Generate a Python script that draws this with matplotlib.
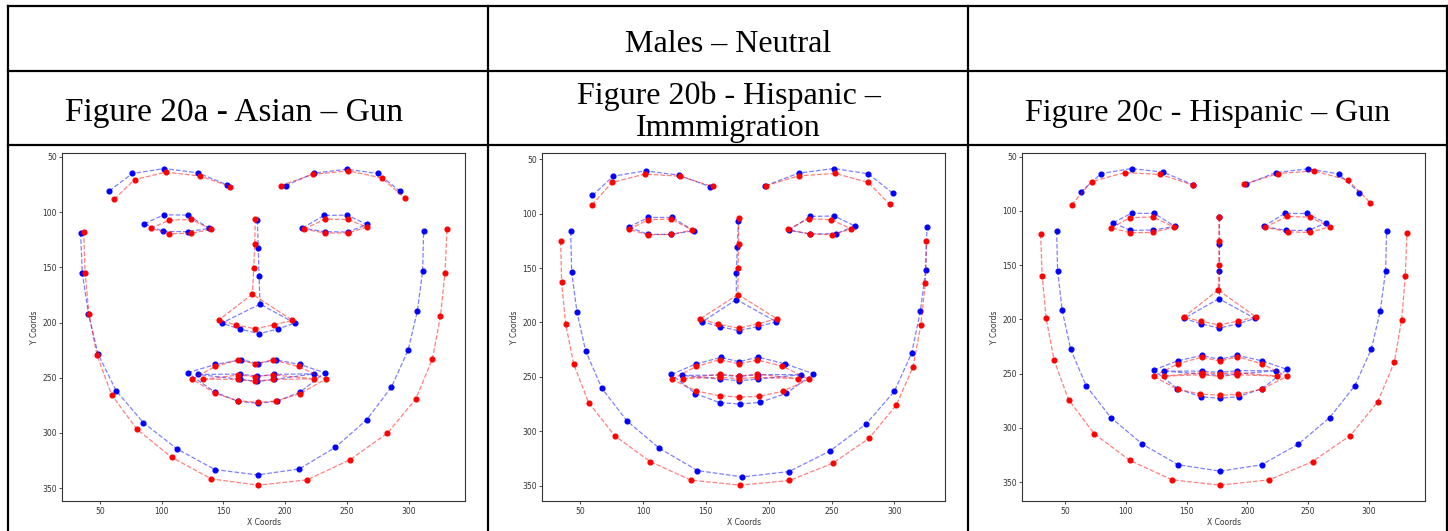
import matplotlib
matplotlib.use("Agg")
import matplotlib.pyplot as plt
from matplotlib.lines import Line2D

# ---------------------------------------------------------------------------
# 68-point facial landmarks (jaw 0-16, brows 17-26, nose 27-35,
# eyes 36-47, outer lips 48-59, inner lips 60-67) for each panel.
# ---------------------------------------------------------------------------

# Figure 20a - Asian - Gun
a_blue_x = [34.3, 35.7, 40.6, 48.4, 63.0, 85.1, 112.4, 143.1, 177.7, 211.4, 240.6, 266.0, 286.0, 299.5, 307.0, 311.3, 312.1,
            57.5, 76.2, 102.1, 129.1, 153.1,
            200.4, 223.3, 250.0, 274.9, 292.7,
            177.4, 178.2, 178.8, 179.6, 148.5, 163.4, 178.8, 193.9, 207.7,
            85.9, 101.8, 121.0, 138.6, 121.0, 101.3,
            213.9, 231.4, 250.3, 266.0, 251.1, 232.0,
            120.9, 143.3, 164.4, 178.2, 192.2, 212.2, 231.9, 212.2, 193.3, 178.2, 161.8, 142.8,
            129.6, 163.6, 177.4, 191.2, 223.6, 191.2, 177.4, 163.6]
a_blue_y = [118.6, 155.3, 192.0, 228.5, 261.6, 290.7, 314.5, 333.2, 338.0, 332.6, 313.0, 288.0, 258.5, 225.1, 189.6, 153.2, 116.8,
            80.7, 65.0, 60.5, 64.4, 75.3,
            75.9, 64.7, 61.1, 65.0, 80.7,
            107.2, 132.2, 157.4, 183.3, 200.5, 205.9, 210.1, 205.9, 200.5,
            110.5, 102.4, 102.7, 114.7, 117.7, 117.5,
            114.4, 103.0, 102.7, 111.1, 118.0, 117.7,
            245.5, 238.0, 233.8, 237.1, 233.8, 238.0, 245.5, 262.9, 271.4, 273.2, 271.4, 262.9,
            247.0, 246.7, 248.6, 247.0, 246.4, 251.5, 253.3, 251.5]
a_red_x = [36.8, 37.9, 41.1, 47.6, 59.4, 80.0, 108.0, 140.2, 178.2, 217.7, 252.2, 282.7, 305.7, 319.2, 325.7, 329.4, 331.0,
           61.6, 78.1, 103.5, 130.7, 155.6,
           196.3, 222.2, 251.1, 278.1, 297.0,
           175.8, 175.3, 174.5, 173.4, 146.1, 160.2, 175.3, 190.9, 205.8,
           91.0, 106.2, 123.7, 140.2, 123.4, 105.9,
           215.2, 232.2, 250.6, 266.0, 251.1, 232.2,
           124.7, 143.3, 161.7, 175.6, 190.1, 210.8, 232.7, 211.9, 192.5, 178.2, 161.5, 143.3,
           133.6, 162.0, 175.6, 190.2, 223.6, 190.2, 175.6, 162.0]
a_red_y = [117.7, 154.7, 192.6, 229.7, 265.5, 296.8, 322.1, 341.6, 347.3, 342.5, 324.4, 300.3, 269.3, 232.9, 194.4, 155.0, 115.6,
           88.2, 70.5, 63.8, 67.2, 76.8,
           75.9, 65.9, 62.6, 69.0, 87.3,
           106.3, 128.5, 150.8, 174.3, 197.8, 202.2, 205.6, 202.0, 198.0,
           114.7, 107.2, 106.6, 115.6, 119.2, 119.5,
           115.3, 106.3, 106.6, 113.5, 118.9, 118.9,
           251.3, 239.8, 233.8, 237.4, 233.8, 239.8, 251.3, 264.4, 271.1, 272.3, 270.8, 264.2,
           251.3, 247.6, 248.9, 247.4, 251.0, 251.5, 253.3, 251.5]

# Figure 20b - Hispanic - Immigration
b_blue_x = [42.3, 43.1, 47.3, 54.2, 67.0, 87.2, 112.9, 143.2, 179.0, 216.1, 248.8, 277.5, 300.0, 313.8, 320.7, 325.0, 326.0,
            59.6, 76.3, 102.0, 128.6, 153.5,
            197.3, 223.8, 251.7, 279.3, 298.7,
            175.8, 175.0, 174.2, 174.2, 147.1, 160.9, 176.0, 191.2, 206.1,
            88.7, 104.1, 122.9, 140.4, 122.1, 103.8,
            216.1, 232.8, 252.2, 268.6, 253.5, 232.8,
            122.5, 141.8, 161.7, 176.3, 191.4, 212.9, 235.5, 214.0, 193.0, 176.8, 160.9, 141.6,
            131.2, 161.5, 176.6, 191.4, 226.0, 191.4, 176.6, 161.5]
b_blue_y = [116.3, 153.6, 190.2, 226.0, 260.2, 290.5, 315.5, 336.0, 341.8, 336.9, 318.0, 293.2, 263.3, 228.1, 189.9, 151.7, 112.6,
            83.3, 65.6, 60.7, 64.7, 75.4,
            74.4, 62.8, 58.6, 63.4, 81.2,
            106.5, 130.4, 154.2, 178.9, 199.4, 203.7, 207.6, 203.7, 199.4,
            112.3, 103.5, 103.5, 115.7, 119.1, 119.1,
            115.4, 102.6, 102.2, 111.4, 118.5, 118.7,
            247.7, 238.2, 232.1, 236.0, 231.8, 237.9, 247.0, 265.1, 273.3, 274.9, 273.6, 265.3,
            248.6, 248.3, 249.5, 247.9, 247.9, 252.0, 253.4, 252.0]
b_red_x = [34.3, 35.1, 38.3, 44.7, 56.6, 77.3, 105.5, 138.1, 177.4, 216.4, 250.9, 279.8, 301.6, 314.9, 321.0, 324.7, 325.5,
           59.3, 75.2, 101.2, 129.1, 155.4,
           197.6, 224.1, 252.8, 279.3, 296.5,
           176.0, 176.0, 175.5, 175.5, 145.5, 159.9, 176.0, 191.4, 206.5,
           88.7, 104.1, 122.1, 139.1, 122.1, 103.8,
           215.0, 232.0, 249.8, 265.8, 250.6, 232.8,
           122.7, 142.4, 160.9, 176.3, 190.9, 210.8, 231.8, 211.3, 192.2, 176.3, 160.9, 142.4,
           131.7, 161.5, 176.0, 190.9, 223.0, 190.9, 176.0, 161.5]
b_red_y = [125.2, 163.1, 201.2, 238.2, 273.6, 303.9, 327.7, 344.8, 349.4, 345.1, 329.3, 306.4, 275.8, 240.8, 202.6, 164.0, 125.2,
           91.9, 71.4, 63.7, 65.6, 75.1,
           74.4, 65.3, 63.1, 71.4, 91.6,
           104.4, 127.6, 149.9, 174.3, 196.6, 201.6, 205.2, 201.2, 196.6,
           114.5, 105.6, 105.0, 115.1, 119.1, 119.4,
           114.5, 104.7, 105.6, 114.1, 119.4, 118.7,
           252.2, 240.3, 234.2, 237.9, 234.5, 240.0, 252.2, 263.2, 267.8, 268.5, 267.2, 263.0,
           251.6, 247.4, 249.2, 247.4, 251.6, 250.4, 251.6, 250.4]

# Figure 20c - Hispanic - Gun
c_blue_x = [42.9, 43.7, 47.5, 54.4, 67.3, 87.6, 113.5, 143.1, 177.7, 211.8, 242.0, 267.9, 288.5, 302.2, 309.6, 314.0, 314.8,
            62.6, 79.7, 104.7, 130.8, 155.5,
            199.2, 223.6, 249.7, 275.3, 292.3,
            176.6, 176.6, 176.6, 176.6, 147.8, 161.8, 176.9, 192.0, 206.3,
            89.6, 104.7, 123.4, 140.4, 122.3, 103.6,
            213.5, 230.8, 249.5, 264.6, 250.5, 232.1,
            122.8, 142.9, 162.9, 177.2, 191.7, 211.8, 232.7, 212.3, 192.9, 177.2, 161.6, 142.3,
            131.6, 162.6, 177.2, 191.7, 223.6, 191.7, 177.2, 162.6]
c_blue_y = [118.3, 155.1, 191.6, 227.4, 261.4, 290.5, 315.0, 334.0, 339.9, 334.0, 315.0, 290.5, 261.4, 227.4, 192.2, 155.1, 118.3,
            82.8, 65.6, 61.0, 64.4, 76.0,
            75.4, 64.7, 61.3, 65.9, 83.1,
            105.8, 130.6, 155.1, 180.9, 199.2, 204.1, 208.1, 204.1, 199.2,
            111.0, 102.1, 102.4, 114.4, 117.7, 118.0,
            114.4, 102.4, 102.4, 111.3, 118.0, 118.0,
            246.7, 238.1, 233.2, 236.9, 233.2, 238.1, 246.1, 263.8, 271.2, 272.8, 271.2, 263.8,
            247.7, 247.7, 248.9, 247.3, 247.3, 250.4, 251.6, 250.4]
c_red_x = [29.7, 31.0, 34.3, 40.7, 52.7, 73.9, 103.3, 137.9, 177.7, 218.1, 253.8, 284.9, 307.4, 321.2, 327.2, 330.2, 331.6,
           55.2, 71.7, 99.2, 128.3, 155.5,
           197.5, 225.5, 255.2, 283.2, 301.4,
           176.6, 176.6, 176.6, 176.1, 147.5, 161.5, 176.6, 192.0, 206.9,
           87.9, 103.3, 122.0, 139.6, 122.0, 103.3,
           214.6, 233.0, 251.9, 267.9, 251.9, 233.2,
           122.8, 142.9, 162.6, 177.2, 191.7, 211.8, 232.9, 212.1, 192.6, 177.2, 161.2, 142.6,
           131.6, 162.4, 177.2, 191.7, 224.2, 191.7, 177.2, 162.4]
c_red_y = [121.4, 160.0, 199.2, 237.2, 273.9, 305.5, 330.0, 347.9, 352.8, 347.9, 331.0, 307.1, 276.2, 239.4, 200.2, 160.3, 120.5,
           94.4, 73.0, 64.7, 66.5, 76.3,
           75.4, 65.6, 63.2, 71.8, 92.6,
           105.8, 127.5, 149.6, 172.9, 198.0, 201.7, 205.1, 201.7, 197.7,
           115.6, 106.4, 105.5, 115.0, 119.9, 120.2,
           115.0, 105.2, 105.8, 114.7, 119.9, 119.3,
           252.5, 240.9, 234.8, 238.5, 234.4, 240.9, 252.5, 264.2, 269.1, 270.0, 268.8, 264.5,
           252.3, 249.1, 250.1, 249.1, 252.3, 251.0, 252.5, 251.0]

HEADER = "Males – Neutral"
PANEL_TITLES = ["Figure 20a - Asian – Gun",
                "Figure 20b - Hispanic –\nImmmigration",
                "Figure 20c - Hispanic – Gun"]
X_TICKS = [50, 100, 150, 200, 250, 300]
Y_TICKS = [50, 100, 150, 200, 250, 300, 350]

# Landmark index chains joined by dashed lines
CHAINS = [
    list(range(0, 17)),                 # jaw
    list(range(17, 22)),                # right brow
    list(range(22, 27)),                # left brow
    list(range(27, 31)),                # nose bridge
    [30, 31, 32, 33, 34, 35, 30],       # nose base
    list(range(36, 42)) + [36],         # right eye
    list(range(42, 48)) + [42],         # left eye
    list(range(48, 60)) + [48],         # outer lips
    list(range(60, 68)) + [60],         # inner lips
]

W, H = 1448, 531
fig = plt.figure(figsize=(W / 100, H / 100), dpi=100)
fig.patch.set_facecolor("white")


def fx(x):
    return x / W


def fy(y):
    return 1 - y / H


# table grid
grid_kw = dict(color="black", lw=1.6, solid_capstyle="projecting")
for y in (6, 71, 145):
    fig.add_artist(Line2D([fx(7.5), fx(1447)], [fy(y), fy(y)], **grid_kw))
for x in (7.5, 488, 968, 1447):
    fig.add_artist(Line2D([fx(x), fx(x)], [fy(6), fy(531)], **grid_kw))

serif = ["Liberation Serif", "DejaVu Serif"]
FS = 23
fig.text(fx(728), fy(52), HEADER, ha="center", va="baseline",
         family=serif, fontsize=FS)
fig.text(fx(234), fy(121), PANEL_TITLES[0], ha="center", va="baseline",
         family=serif, fontsize=24)
line1, line2 = PANEL_TITLES[1].split("\n")
fig.text(fx(729), fy(104), line1, ha="center", va="baseline",
         family=serif, fontsize=FS)
fig.text(fx(728), fy(136), line2, ha="center", va="baseline",
         family=serif, fontsize=FS)
fig.text(fx(1208), fy(121), PANEL_TITLES[2], ha="center", va="baseline",
         family=serif, fontsize=FS)

panels = [
    (62.3, (a_blue_x, a_blue_y), (a_red_x, a_red_y)),
    (542.3, (b_blue_x, b_blue_y), (b_red_x, b_red_y)),
    (1022.3, (c_blue_x, c_blue_y), (c_red_x, c_red_y)),
]

ax_top, ax_bottom, ax_w = 152.7, 501.0, 403.0
for left, blue, red in panels:
    ax = fig.add_axes([fx(left), fy(ax_bottom), ax_w / W, (ax_bottom - ax_top) / H])
    for (xs, ys), col in ((blue, "blue"), (red, "red")):
        for chain in CHAINS:
            ax.plot([xs[i] for i in chain], [ys[i] for i in chain], "--",
                    color=col, alpha=0.5, lw=0.9)
        ax.plot(xs, ys, "o", color=col, ms=3.4, ls="none")
    ax.invert_yaxis()
    ax.set_xticks(X_TICKS)
    ax.set_yticks(Y_TICKS)
    ax.tick_params(labelsize=5.5, length=2.5, width=0.6, pad=1.5, colors="#333333")
    ax.set_xlabel("X Coords", fontsize=5.5, labelpad=1.5, color="#333333")
    ax.set_ylabel("Y Coords", fontsize=5.5, labelpad=2, color="#333333")
    for sp in ax.spines.values():
        sp.set_linewidth(0.8)
        sp.set_color("#333333")

fig.savefig("out.png", dpi=100, facecolor="white")
